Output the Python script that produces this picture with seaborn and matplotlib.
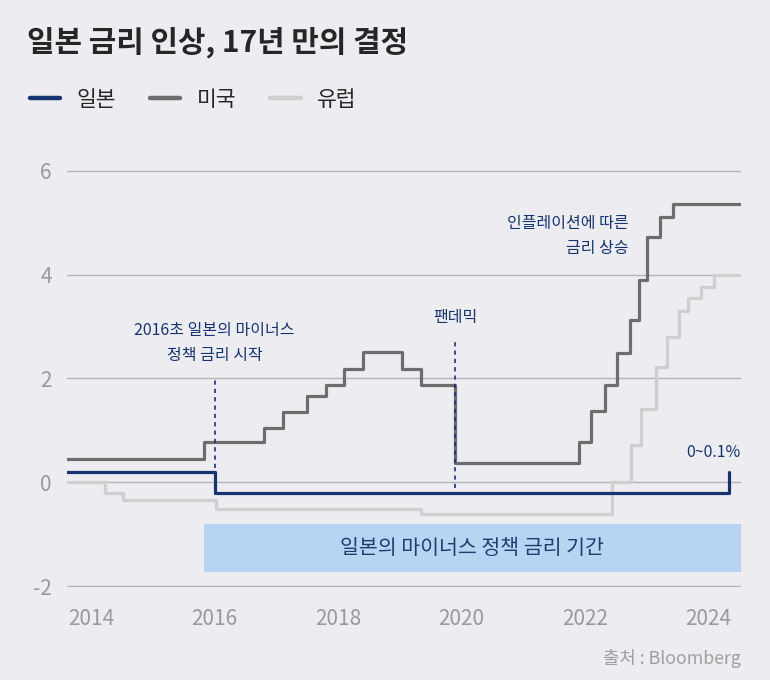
import pandas as pd
import seaborn as sns
import matplotlib.pyplot as plt
from matplotlib.patches import Rectangle

# 데이터 (그림에서 읽은 값, 단위 %)
japan_dates = [2013.61, 2016.0, 2024.33]
japan_rates = [0.2, -0.2, 0.2]

us_dates = [2013.61, 2015.83, 2016.80, 2017.10, 2017.49, 2017.80, 2018.10, 2018.41,
            2019.04, 2019.34, 2019.90, 2021.90, 2022.10, 2022.32, 2022.51, 2022.73,
            2022.87, 2023.01, 2023.21, 2023.42, 2024.52]
us_rates = [0.45, 0.77, 1.05, 1.35, 1.67, 1.88, 2.18, 2.51,
            2.18, 1.88, 0.38, 0.77, 1.38, 1.88, 2.5, 3.12,
            3.9, 4.73, 5.11, 5.37, 5.37]

eu_dates = [2013.61, 2014.22, 2014.51, 2016.03, 2019.34, 2022.44, 2022.75, 2022.90,
            2023.14, 2023.32, 2023.52, 2023.66, 2023.87, 2024.09, 2024.52]
eu_rates = [0.0, -0.2, -0.34, -0.51, -0.62, 0.0, 0.72, 1.41,
            2.22, 2.8, 3.31, 3.56, 3.77, 4.0, 4.0]

x_ticks = [2014, 2016, 2018, 2020, 2022, 2024]
y_ticks = [-2, 0, 2, 4, 6]

negative_start = 2015.83
negative_end = 2024.52

BG = '#ececf1'
NAVY = '#163570'
colors = {'일본': NAVY, '미국': '#6d6d6d', '유럽': '#cfcfcf'}

df = pd.concat([
    pd.DataFrame({'date': japan_dates, 'rate': japan_rates, 'country': '일본'}),
    pd.DataFrame({'date': us_dates, 'rate': us_rates, 'country': '미국'}),
    pd.DataFrame({'date': eu_dates, 'rate': eu_rates, 'country': '유럽'}),
])

sns.set_theme(style='white')
plt.rcParams['font.family'] = ['Noto Sans CJK KR', 'DejaVu Sans']

fig = plt.figure(figsize=(7.7, 6.8), dpi=100, facecolor=BG)
ax = fig.add_axes([0.087, 0.1367, 0.875, 0.6134], facecolor=BG)

# 마이너스 금리 기간 음영
ax.add_patch(Rectangle((negative_start, -1.73), negative_end - negative_start, 0.92,
                       color='#b8d4f3', lw=0, zorder=1))
ax.text((negative_start + negative_end) / 2, -1.27, '일본의 마이너스 정책 금리 기간',
        ha='center', va='center', fontsize=14.8, color='#1f3d6e', zorder=2,
        fontweight='medium')

sns.lineplot(data=df, x='date', y='rate', hue='country', hue_order=['유럽', '미국', '일본'],
             palette=colors, drawstyle='steps-post', linewidth=2.3, ax=ax, zorder=3,
             estimator=None, sort=False)

# 점선 표시
ax.vlines(2016.0, -0.2, 2.0, colors=NAVY, linestyles=(0, (2.5, 2.5)), lw=1.2, zorder=4)
ax.vlines(2019.9, -0.12, 2.73, colors=NAVY, linestyles=(0, (2.5, 2.5)), lw=1.2, zorder=4)

note_style = dict(fontsize=11.5, color=NAVY, fontweight='medium')
ax.text(2016.0, 2.68, '2016초 일본의 마이너스\n정책 금리 시작', ha='center', va='center',
        linespacing=1.6, **note_style)
ax.text(2019.9, 3.17, '팬데믹', ha='center', va='center', **note_style)
ax.text(2022.7, 4.74, '인플레이션에 따른\n금리 상승', ha='right', va='center',
        linespacing=1.6, **note_style)
ax.text(2024.52, 0.57, '0~0.1%', ha='right', va='center', **note_style)

ax.set_xlim(2013.61, 2024.52)
ax.set_ylim(-2.02, 6.02)
ax.set_xticks(x_ticks)
ax.set_xticklabels([str(t) for t in x_ticks])
ax.set_yticks(y_ticks)
ax.set_yticklabels([str(t) for t in y_ticks])
ax.tick_params(length=0, labelsize=15, labelcolor='#9a9a9a')
ax.tick_params(axis='x', pad=15)
ax.tick_params(axis='y', pad=11)
ax.yaxis.grid(True, color='#b5b5b5', lw=1)
ax.set_axisbelow(True)
sns.despine(ax=ax, left=True, bottom=True)
ax.set_xlabel('')
ax.set_ylabel('')

# 범례
handles, labels = ax.get_legend_handles_labels()
order = [labels.index(n) for n in ['일본', '미국', '유럽']]
ax.legend([handles[i] for i in order], [labels[i] for i in order],
          loc='center left', bbox_to_anchor=(30 / 770, 1 - 100 / 680),
          bbox_transform=fig.transFigure, ncol=3, frameon=False, fontsize=15.5,
          handlelength=1.4, handletextpad=0.75, columnspacing=1.6,
          borderpad=0, borderaxespad=0)
for line in ax.get_legend().get_lines():
    line.set_linewidth(3.2)

fig.text(27 / 770, 1 - 42 / 680, '일본 금리 인상, 17년 만의 결정', fontsize=21.5,
         fontweight='bold', color='#262626', va='center', ha='left')
fig.text(741 / 770, 1 - 659 / 680, '출처 : Bloomberg', fontsize=12.8, color='#a0a0a0',
         ha='right', va='center')

fig.savefig('out.png', dpi=100, facecolor=BG)
